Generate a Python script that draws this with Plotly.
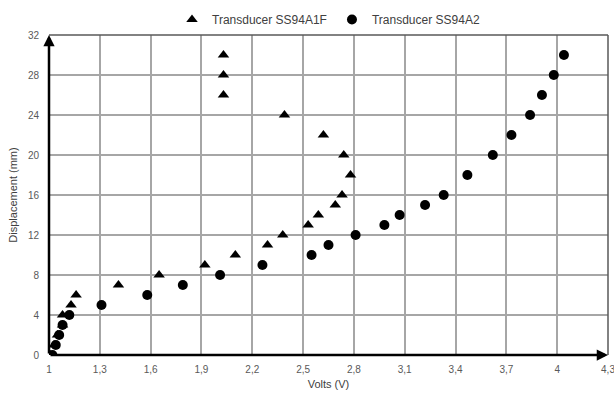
import plotly.graph_objects as go

# Data
tri_volts = [1.01, 1.03, 1.05, 1.08, 1.08, 1.13, 1.16, 1.41, 1.65, 1.92, 2.10, 2.29, 2.38,
             2.53, 2.59, 2.69, 2.73, 2.78, 2.74, 2.62, 2.39, 2.03, 2.03, 2.03]
tri_disp = [0, 1, 2, 3, 4, 5, 6, 7, 8, 9, 10, 11, 12, 13, 14, 15, 16, 18, 20, 22, 24, 26, 28, 30]

circ_volts = [1.02, 1.04, 1.06, 1.08, 1.12, 1.31, 1.58, 1.79, 2.01, 2.26, 2.55, 2.65, 2.81,
              2.98, 3.07, 3.22, 3.33, 3.47, 3.62, 3.73, 3.84, 3.91, 3.98, 4.04]
circ_disp = [0, 1, 2, 3, 4, 5, 6, 7, 8, 9, 10, 11, 12, 13, 14, 15, 16, 18, 20, 22, 24, 26, 28, 30]

series_names = ["Transducer SS94A1F", "Transducer SS94A2"]

x_range = [1, 4.3]
y_range = [0, 32]

FONT = "Liberation Sans, Arial, sans-serif"

fig = go.Figure()
fig.add_trace(go.Scatter(x=tri_volts, y=tri_disp, mode="markers", name=series_names[0],
                         marker=dict(symbol="triangle-up", size=10, color="black")))
fig.add_trace(go.Scatter(x=circ_volts, y=circ_disp, mode="markers", name=series_names[1],
                         marker=dict(symbol="circle", size=10, color="black")))

fig.update_layout(
    width=614, height=396,
    margin=dict(l=49, r=6, t=34, b=41),
    paper_bgcolor="white", plot_bgcolor="white",
    separators=", ",
    font=dict(family=FONT, size=10, color="#595959"),
    legend=dict(orientation="h", x=0.5, xanchor="center", y=1.0, yanchor="bottom",
                font=dict(size=12, color="#404040"), itemwidth=30,
                bgcolor="rgba(0,0,0,0)"),
    xaxis=dict(range=x_range, tick0=1, dtick=0.3, showgrid=True, gridcolor="#a6a6a6",
               gridwidth=1.5, zeroline=False, showline=False, ticks="",
               ticklabelstandoff=7, ticklabeloverflow="allow", automargin=False,
               tickfont=dict(size=10, color="#595959"),
               title=dict(text="Volts (V)", font=dict(size=11, color="#404040"), standoff=6)),
    yaxis=dict(range=y_range, tick0=0, dtick=4, showgrid=True, gridcolor="#a6a6a6",
               gridwidth=1.5, zeroline=False, showline=False, ticks="",
               ticklabelstandoff=9, ticklabeloverflow="allow", automargin=False,
               tickfont=dict(size=10, color="#595959"),
               title=dict(text="Displacement (mm)", font=dict(size=11, color="#404040"), standoff=8)),
)

# top and right frame
fig.add_shape(type="line", xref="paper", yref="paper", x0=0, x1=1, y0=1, y1=1,
              line=dict(color="#595959", width=1.5))
fig.add_shape(type="line", xref="paper", yref="paper", x0=1, x1=1, y0=0, y1=1,
              line=dict(color="#595959", width=1.5))

# axis arrows
fig.add_annotation(x=x_range[1], y=0, ax=x_range[0], ay=0, xref="x", yref="y",
                   axref="x", ayref="y", showarrow=True, arrowhead=2, arrowsize=0.9,
                   arrowwidth=2.5, arrowcolor="black", text="")
fig.add_annotation(x=x_range[0], y=y_range[1], ax=x_range[0], ay=0, xref="x", yref="y",
                   axref="x", ayref="y", showarrow=True, arrowhead=2, arrowsize=0.9,
                   arrowwidth=2.5, arrowcolor="black", text="")

fig.write_html("out.html")
